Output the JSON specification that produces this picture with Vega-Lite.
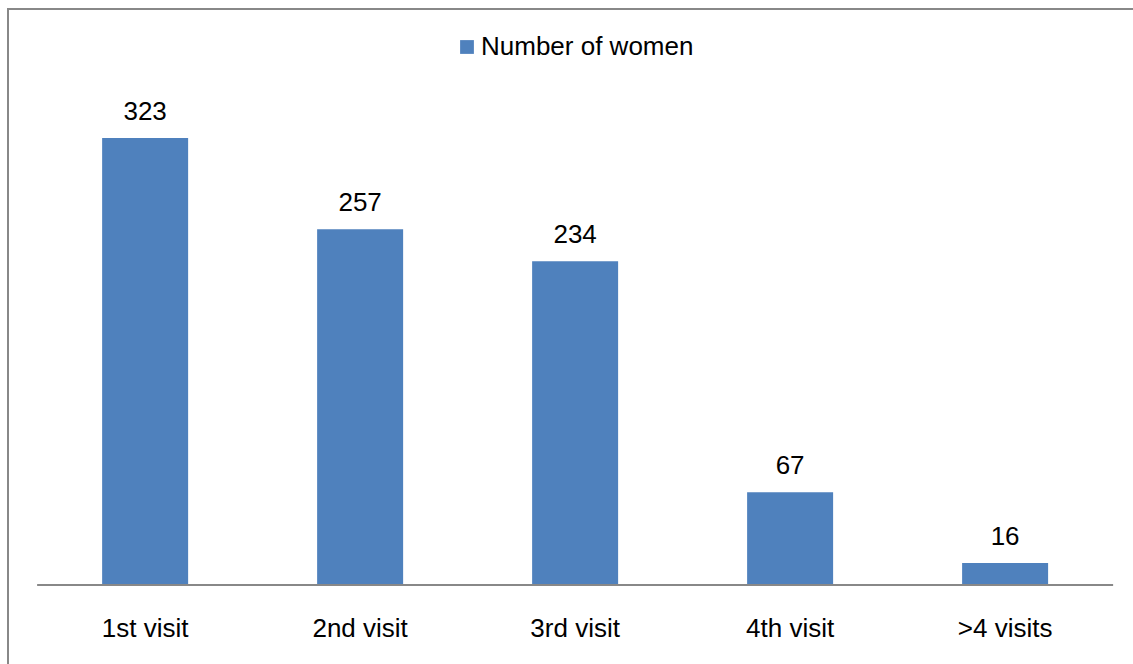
{
  "$schema": "https://vega.github.io/schema/vega-lite/v6.json",
  "autosize": {"type": "none"},
  "width": 1127,
  "height": 657,
  "padding": {"left": 8, "top": 9, "right": 0, "bottom": 0},
  "background": "white",
  "config": {
    "view": {"stroke": "#888888", "strokeWidth": 2},
    "font": "Liberation Sans"
  },
  "datasets": {
    "visits": [
      {"visit": "1st visit", "women": 323},
      {"visit": "2nd visit", "women": 257},
      {"visit": "3rd visit", "women": 234},
      {"visit": "4th visit", "women": 67},
      {"visit": ">4 visits", "women": 16}
    ],
    "baseline": [
      {"from": "1st visit", "to": ">4 visits", "value": 0}
    ]
  },
  "encoding": {
    "x": {
      "field": "visit",
      "type": "nominal",
      "sort": null,
      "scale": {"paddingInner": 0.6, "paddingOuter": 0.421, "align": 0.52},
      "axis": {
        "title": null,
        "domain": false,
        "ticks": false,
        "tickSize": 0,
        "labelAngle": 0,
        "labelFontSize": 26,
        "labelColor": "#000000",
        "labelFont": "Liberation Sans",
        "labelBaseline": "alphabetic",
        "labelPadding": 51,
        "offset": -81,
        "grid": false
      }
    },
    "y": {
      "field": "women",
      "type": "quantitative",
      "scale": {"domain": [-58.5, 416.2], "nice": false, "zero": false},
      "axis": null
    }
  },
  "layer": [
    {
      "data": {"name": "visits"},
      "mark": {"type": "bar", "fill": "#4F81BD"},
      "encoding": {
        "y2": {"datum": 0},
        "color": {
          "datum": "Number of women",
          "type": "nominal",
          "scale": {"range": ["#4F81BD"]},
          "legend": {
            "title": null,
            "orient": "none",
            "legendX": 446,
            "legendY": 25,
            "symbolType": "square",
            "symbolSize": 190,
            "symbolStrokeWidth": 0,
            "symbolOffset": 0,
            "labelFontSize": 26,
            "labelColor": "#000000",
            "labelFont": "Liberation Sans",
            "labelOffset": 1,
            "labelLimit": 0,
            "padding": 0
          }
        }
      }
    },
    {
      "data": {"name": "visits"},
      "mark": {
        "type": "text",
        "baseline": "alphabetic",
        "dy": -18,
        "fontSize": 26,
        "font": "Liberation Sans",
        "color": "#000000"
      },
      "encoding": {"text": {"field": "women", "type": "quantitative"}}
    },
    {
      "data": {"name": "baseline"},
      "mark": {"type": "rule", "color": "#888888", "strokeWidth": 2},
      "encoding": {
        "x": {"field": "from", "type": "nominal", "sort": null, "bandPosition": -0.756},
        "x2": {"field": "to", "bandPosition": 1.756},
        "y": {"field": "value", "type": "quantitative"}
      }
    }
  ]
}
